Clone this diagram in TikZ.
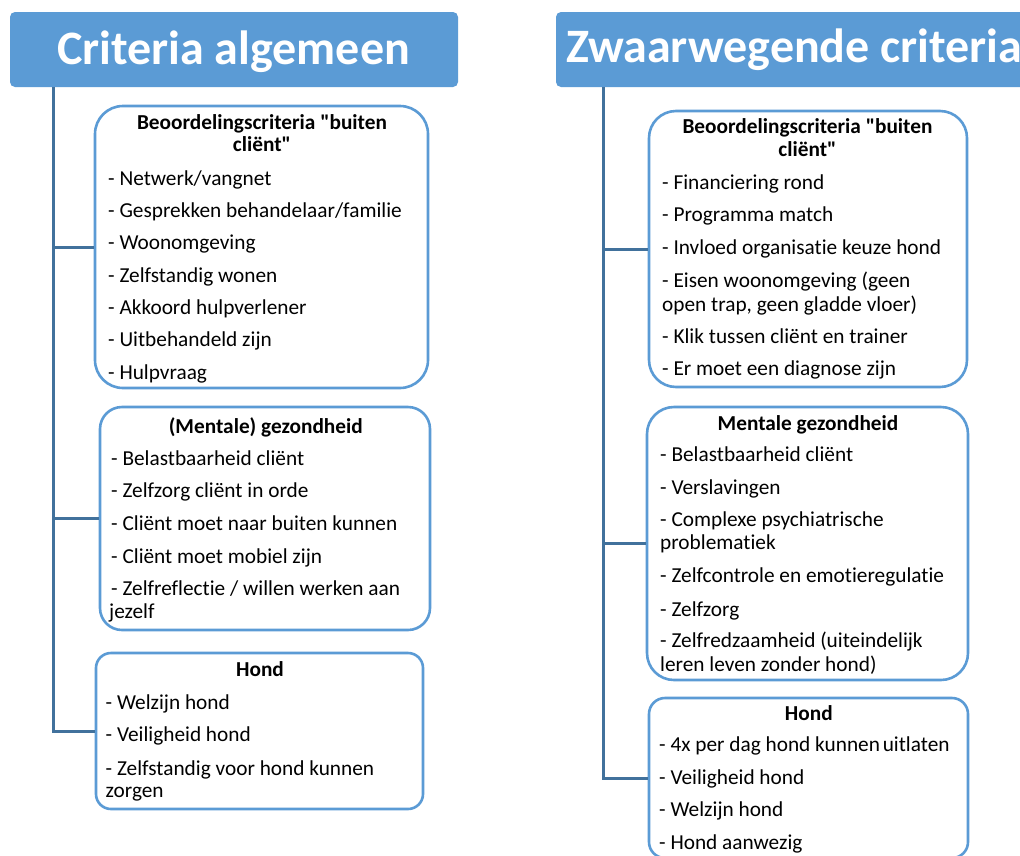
\documentclass[tikz,border=0pt]{standalone}
\usepackage{fontspec}
\setmainfont{Carlito}[Ligatures={NoCommon}]
\definecolor{hdrblue}{HTML}{5B9BD5}
\definecolor{boxblue}{HTML}{5B9BD5}
\definecolor{linkblue}{HTML}{41719C}
\tikzset{
  hdr/.style={fill=hdrblue, draw=none, rounded corners=5pt, inner sep=0pt},
  htxt/.style={text=white, inner sep=0pt, font=\bfseries\fontsize{48}{56}\selectfont},
  box/.style={draw=boxblue, line width=2.6pt, fill=white, inner sep=0pt},
  conn/.style={draw=linkblue, line width=3pt},
  itm/.style={anchor=base west, inner sep=0pt, font=\fontsize{21.3}{24}\selectfont},
  ttl/.style={anchor=base, inner sep=0pt, font=\bfseries\fontsize{21.3}{24}\selectfont}
}
\begin{document}
\begin{tikzpicture}[x=1pt,y=-1pt]
\useasboundingbox (0,0) rectangle (1020,855);
\clip (0,0) rectangle (1020,855);
\fill[white] (0,0) rectangle (1020,855);

% headers
\node[hdr, minimum width=448pt, minimum height=75pt] (H1) at (234,49.5) {};
\node[htxt, anchor=base] (H1t) at (233.5,64) {Criteria algemeen};
\node[hdr, minimum width=490pt, minimum height=75pt] (H2) at (801,49.5) {};
\node[htxt, anchor=base west] (H2t) at (566,62.7) {Zwaarwegende criteria};

% connector trunks
\coordinate (tL) at (53,87);
\coordinate (tR) at (603,87);

% left boxes
\node[box, minimum width=333pt, minimum height=282pt, rounded corners=28pt] (L1) at (261.5,247) {};
\node[box, minimum width=330pt, minimum height=223pt, rounded corners=22pt] (L2) at (265,518.5) {};
\node[box, minimum width=327pt, minimum height=156pt, rounded corners=15pt] (L3) at (259.5,731) {};
% right boxes
\node[box, minimum width=318pt, minimum height=276pt, rounded corners=27pt] (R1) at (808,249) {};
\node[box, minimum width=321pt, minimum height=273pt, rounded corners=27pt] (R2) at (807.5,543.5) {};
\node[box, minimum width=319pt, minimum height=160pt, rounded corners=16pt] (R3) at (808.5,778) {};

\draw[conn] (tL) |- (L3.west);
\draw[conn] (tL |- L1.west) -- (L1.west);
\draw[conn] (tL |- L2.west) -- (L2.west);
\draw[conn] (tR) |- (R3.west);
\draw[conn] (tR |- R1.west) -- (R1.west);
\draw[conn] (tR |- R2.west) -- (R2.west);

% L1 text
\node[ttl] (L1t1) at (262,129.3) {Beoordelingscriteria \textquotedbl buiten};
\node[ttl] (L1t2) at (262,151.7) {cliënt\textquotedbl};
\node[itm] (L1a) at (108,185) {- Netwerk/vangnet};
\node[itm] (L1b) at (108,217.3) {- Gesprekken behandelaar/familie};
\node[itm] (L1c) at (108,249.7) {- Woonomgeving};
\node[itm] (L1d) at (108,282) {- Zelfstandig wonen};
\node[itm] (L1e) at (108,314.3) {- Akkoord hulpverlener};
\node[itm] (L1f) at (108,346.7) {- Uitbehandeld zijn};
\node[itm] (L1g) at (108,379.3) {- Hulpvraag};

% L2 text
\node[ttl] (L2t) at (265.8,433.3) {(Mentale) gezondheid};
\node[itm] (L2a) at (111,465) {- Belastbaarheid cliënt};
\node[itm] (L2b) at (111,497.3) {- Zelfzorg cliënt in orde};
\node[itm] (L2c) at (111,530) {- Cliënt moet naar buiten kunnen};
\node[itm] (L2d) at (111,563) {- Cliënt moet mobiel zijn};
\node[itm] (L2e) at (111,595) {- Zelfreflectie / willen werken aan};
\node[itm] (L2f) at (109,618.3) {jezelf};

% L3 text
\node[ttl] (L3t) at (260,676.7) {Hond};
\node[itm] (L3a) at (105.5,709.3) {- Welzijn hond};
\node[itm] (L3b) at (105.5,741.7) {- Veiligheid hond};
\node[itm] (L3c) at (105.5,775) {- Zelfstandig voor hond kunnen};
\node[itm] (L3d) at (105.5,797.3) {zorgen};

% R1 text
\node[ttl] (R1t1) at (807.5,133.3) {Beoordelingscriteria \textquotedbl buiten};
\node[ttl] (R1t2) at (807.5,156) {cliënt\textquotedbl};
\node[itm] (R1a) at (662,189.3) {- Financiering rond};
\node[itm] (R1b) at (662,221.7) {- Programma match};
\node[itm] (R1c) at (662,254.3) {- Invloed organisatie keuze hond};
\node[itm] (R1d) at (662,287.7) {- Eisen woonomgeving (geen};
\node[itm] (R1e) at (662,311) {open trap, geen gladde vloer)};
\node[itm] (R1f) at (662,343.3) {- Klik tussen cliënt en trainer};
\node[itm] (R1g) at (662,375) {- Er moet een diagnose zijn};

% R2 text
\node[ttl] (R2t) at (808,430) {Mentale gezondheid};
\node[itm] (R2a) at (660,461.7) {- Belastbaarheid cliënt};
\node[itm] (R2b) at (660,494) {- Verslavingen};
\node[itm] (R2c) at (660,526.7) {- Complexe psychiatrische};
\node[itm] (R2d) at (660,549.3) {problematiek};
\node[itm] (R2e) at (660,582.7) {- Zelfcontrole en emotieregulatie};
\node[itm] (R2f) at (660,616) {- Zelfzorg};
\node[itm] (R2g) at (660,647.3) {- Zelfredzaamheid (uiteindelijk};
\node[itm] (R2h) at (660,671.7) {leren leven zonder hond)};

% R3 text
\node[ttl] (R3t) at (808.8,720) {Hond};
\node[itm] (R3a) at (659,751.7) {- 4x per dag hond kunnen\hspace{-2pt} uitlaten};
\node[itm] (R3b) at (659,784) {- Veiligheid hond};
\node[itm] (R3c) at (659,816.7) {- Welzijn hond};
\node[itm] (R3d) at (659,849.3) {- Hond aanwezig};
\end{tikzpicture}
\end{document}
